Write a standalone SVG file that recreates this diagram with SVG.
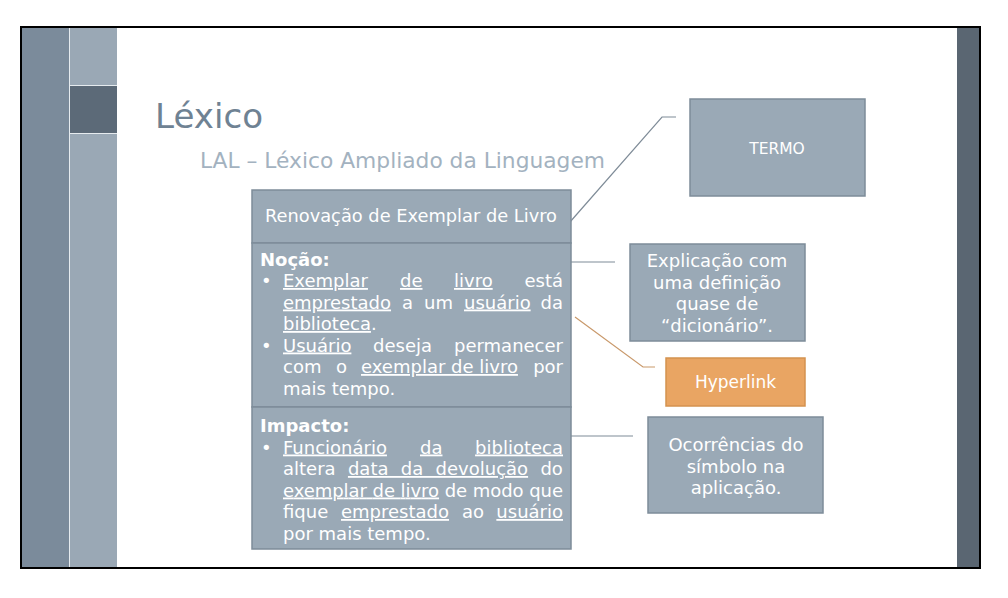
<svg xmlns="http://www.w3.org/2000/svg" width="1008" height="598" viewBox="0 0 1008 598">
<style>
  text { font-family: "DejaVu Sans", "Liberation Sans", sans-serif; fill: #ffffff; }
  .box { fill: #9aa9b6; stroke: #7d8c99; stroke-width: 1.5; }
  .hl { fill: #e9a563; stroke: #d4924f; stroke-width: 1.5; }
  .body { font-size: 18px; }
  .side { font-size: 18px; text-anchor: middle; }
  .u { text-decoration: underline; }
  .b { font-weight: bold; }
  .e { text-anchor: end; }
  .conn { fill: none; stroke: #7f8c98; stroke-width: 1.2; }
  .connh { fill: none; stroke: #c9996b; stroke-width: 1.2; }
</style>
<rect x="0" y="0" width="1008" height="598" fill="#ffffff"/>
<g id="slide">
  <rect x="21" y="27" width="48" height="541" fill="#7b8b9b"/>
  <rect x="70" y="27" width="47" height="541" fill="#9aa8b5"/>
  <rect x="70" y="86" width="47" height="47" fill="#5c6a78"/>
  <line x1="70" y1="85.5" x2="117" y2="85.5" stroke="#e6ebef" stroke-width="1"/>
  <line x1="70" y1="133.5" x2="117" y2="133.5" stroke="#e6ebef" stroke-width="1"/>
  <line x1="69.5" y1="27" x2="69.5" y2="568" stroke="#e6ebef" stroke-width="1"/>
  <rect x="957" y="27" width="23" height="541" fill="#5a6672"/>
  <rect x="21" y="27" width="959" height="541" fill="none" stroke="#000000" stroke-width="2"/>
</g>
<g id="title">
  <text x="155" y="128" font-size="34" textLength="108" lengthAdjust="spacingAndGlyphs" style="fill:#6f8293">Léxico</text>
  <text x="200" y="168" font-size="21.5" textLength="405" lengthAdjust="spacingAndGlyphs" style="fill:#a3b2c0">LAL – Léxico Ampliado da Linguagem</text>
</g>
<g id="connectors">
  <polyline class="conn" points="676,117 662,117 570,222"/>
  <line class="conn" x1="571" y1="262" x2="615" y2="262"/>
  <polyline class="connh" points="575,317 643,367 655,367"/>
  <line class="conn" x1="571" y1="436" x2="633" y2="436"/>
</g>
<g id="header">
  <rect class="box" x="252" y="190" width="319" height="53"/>
  <text x="265" y="222" font-size="17" textLength="292" lengthAdjust="spacingAndGlyphs">Renovação de Exemplar de Livro</text>
</g>
<g id="nocao">
  <rect class="box" x="252" y="243" width="319" height="164"/>
  <text class="body" x="260" y="266"><tspan class="b">Noção:</tspan></text>
  <text class="body" x="261" y="287">•</text>
  <text class="body" y="287"><tspan class="u" x="283">Exemplar</tspan><tspan class="u" x="400">de</tspan><tspan class="u" x="454">livro</tspan></text>
  <text class="body e" x="563" y="287">está</text>
  <text class="body" y="308.5"><tspan class="u" x="283">emprestado</tspan><tspan x="402">a</tspan><tspan x="424">um</tspan><tspan class="u" x="464">usuário</tspan></text>
  <text class="body e" x="563" y="308.5">da</text>
  <text class="body" y="330"><tspan class="u" x="283">biblioteca</tspan><tspan>.</tspan></text>
  <text class="body" x="261" y="351.5">•</text>
  <text class="body" y="351.5"><tspan class="u" x="283">Usuário</tspan><tspan x="373">deseja</tspan></text>
  <text class="body e" x="563" y="351.5">permanecer</text>
  <text class="body" y="373"><tspan x="283">com</tspan><tspan x="336">o</tspan><tspan class="u" x="361">exemplar de livro</tspan></text>
  <text class="body e" x="563" y="373">por</text>
  <text class="body" x="283" y="394.5">mais tempo.</text>
</g>
<g id="impacto">
  <rect class="box" x="252" y="407" width="319" height="142"/>
  <text class="body" x="260" y="432"><tspan class="b">Impacto:</tspan></text>
  <text class="body" x="261" y="453.5">•</text>
  <text class="body" y="453.5"><tspan class="u" x="283">Funcionário</tspan><tspan class="u" x="420">da</tspan></text>
  <text class="body e u" x="563" y="453.5">biblioteca</text>
  <text class="body" x="283" y="475" word-spacing="6.6">altera <tspan class="u">data da devolução</tspan> do</text>
  <text class="body" x="283" y="496.5" textLength="280" lengthAdjust="spacing"><tspan class="u">exemplar de livro</tspan><tspan> de modo que</tspan></text>
  <text class="body" y="518"><tspan x="283">fique</tspan><tspan class="u" x="341">emprestado</tspan><tspan x="462">ao</tspan></text>
  <text class="body e u" x="563" y="518">usuário</text>
  <text class="body" x="283" y="539.5">por mais tempo.</text>
</g>
<g id="termo">
  <rect class="box" x="690" y="99" width="175" height="97"/>
  <text class="side" x="777" y="154" style="font-size:15.5px">TERMO</text>
</g>
<g id="explicacao">
  <rect class="box" x="630" y="244" width="175" height="97"/>
  <text class="side" x="717" y="267">Explicação com</text>
  <text class="side" x="717" y="288.5">uma definição</text>
  <text class="side" x="717" y="310">quase de</text>
  <text class="side" x="717" y="331.5">“dicionário”.</text>
</g>
<g id="hyperlink">
  <rect class="hl" x="666" y="358" width="139" height="48"/>
  <text class="side" x="735.5" y="388" style="font-size:17px">Hyperlink</text>
</g>
<g id="ocorrencias">
  <rect class="box" x="648" y="417" width="175" height="96"/>
  <text class="side" x="736" y="451">Ocorrências do</text>
  <text class="side" x="736" y="472.5">símbolo na</text>
  <text class="side" x="736" y="494">aplicação.</text>
</g>
</svg>
